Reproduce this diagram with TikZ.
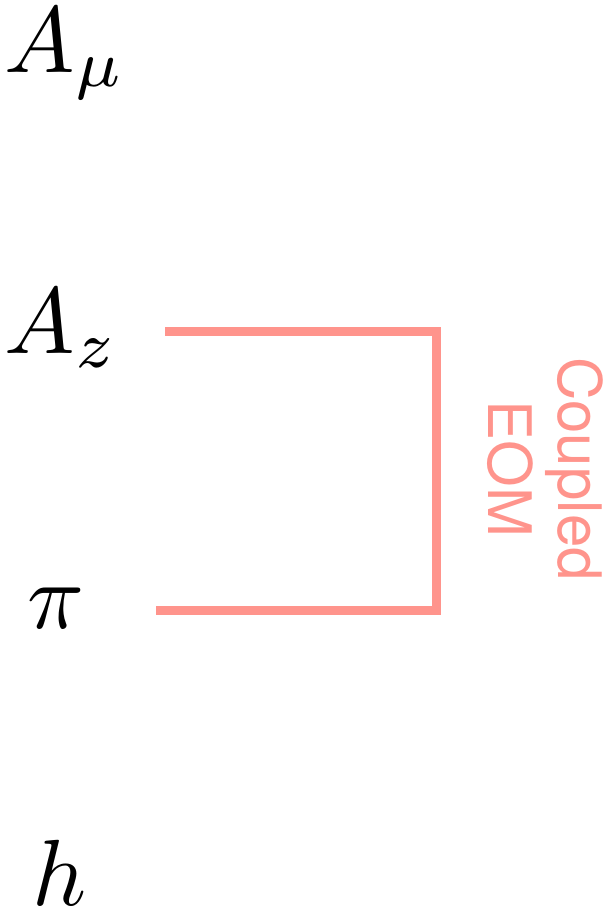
\documentclass[tikz,border=0pt]{standalone}
\usepackage{fontspec}
\newfontfamily\helv{TeX Gyre Heros}
\definecolor{salmon}{RGB}{255,148,140}
\tikzset{
  mathlbl/.style={inner sep=0pt, anchor=base west, scale=9.4},
  bracketline/.style={draw=salmon, line width=9pt, line cap=butt, line join=miter},
  sidelbl/.style={inner sep=0pt, text=salmon, rotate=-90, align=center, font=\helv\fontsize{60}{70}\selectfont}
}
\begin{document}
\begin{tikzpicture}[x=1pt,y=-1pt]
\useasboundingbox (0,0) rectangle (614,922);
\node[mathlbl] (amu) at (3,72) {$A_\mu$};
\node[mathlbl] (az) at (3,353) {$A_z$};
\node[mathlbl] (pi) at (26,628) {$\pi$};
\node[mathlbl] (h) at (31,905) {$h$};
\coordinate (tl) at (165,331);
\coordinate (br) at (436,610);
\coordinate (bl) at (156,610);
\draw[bracketline] (tl) -| (br) -- (bl);
\node[sidelbl] (eom) at (545,469) {Coupled\\EOM};
\end{tikzpicture}
\end{document}
